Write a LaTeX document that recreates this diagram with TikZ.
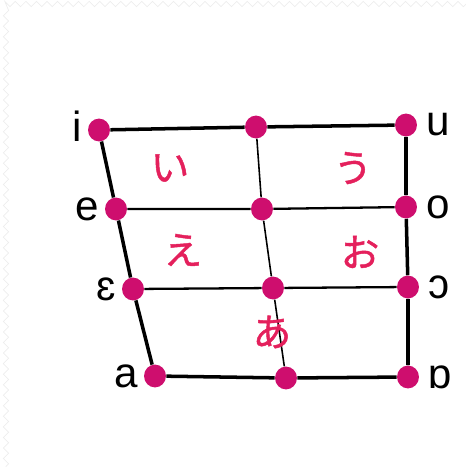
\documentclass[tikz,border=0pt]{standalone}
\usepackage{fontspec}
\setmainfont{Liberation Sans}
\newfontfamily\jpfont[FakeBold=1.2]{Noto Sans CJK JP}
\usetikzlibrary{shapes.geometric,decorations.pathmorphing}
\definecolor{dotred}{RGB}{206,14,110}
\definecolor{kanared}{RGB}{228,32,92}

\begin{document}
\begin{tikzpicture}[x=0.02cm, y=-0.02cm,
	dot/.style={ellipse, fill=dotred, inner sep=0pt, minimum width=12.5pt, minimum height=13pt},
	vowel/.style={font=\fontsize{24}{24}\selectfont, inner sep=0pt, label distance=3pt},
	kana/.style={text=kanared, font=\jpfont\fontsize{22}{22}\selectfont},
	edge/.style={line width=2pt},
	grid/.style={line width=1.3pt}]
	\useasboundingbox (0, 0) rectangle (466, 467);
	% faint paper edge
	\draw [black!7, decorate, decoration={zigzag, segment length=6, amplitude=1.5}]
		(466, 4) -- (6, 4) -- (6, 467);

	% front vowels
	\node [dot, label={[vowel, yshift=2pt]left:i}] (i) at (99, 130) {};
	\node [dot, label={[vowel]left:e}] (e) at (116, 209) {};
	\node [dot, label={[vowel]left:ɛ}] (eps) at (133, 289) {};
	\node [dot, label={[vowel]left:a}] (a) at (155, 376) {};
	% central
	\node [dot] (mi) at (256, 127) {};
	\node [dot] (me) at (262, 209) {};
	\node [dot] (meps) at (273, 288) {};
	\node [dot] (ma) at (286, 378) {};
	% back vowels
	\node [dot, label={[vowel, label distance=5pt]right:u}] (u) at (406, 125) {};
	\node [dot, label={[vowel, label distance=5pt]right:o}] (o) at (406, 207) {};
	\node [dot, label={[vowel, label distance=5pt]right:ɔ}] (oo) at (408, 287) {};
	\node [dot, label={[vowel, label distance=5pt]right:ɒ}] (ao) at (408, 377) {};

	\draw [edge] (i) -- (mi) -- (u);
	\draw [edge] (i) -- (e) -- (eps) -- (a);
	\draw [edge] (u) -- (o) -- (oo) -- (ao);
	\draw [edge] (a) -- (ma) -- (ao);
	\draw [grid] (e) -- (me) -- (o);
	\draw [grid] (eps) -- (meps) -- (oo);
	\draw [line width=0.9pt] (mi) -- (me) -- (meps) -- (ma);

	\node [kana] (ki) at (170, 168) {い};
	\node [kana] (ku) at (353, 168) {う};
	\node [kana] (ke) at (183, 250) {え};
	\node [kana] (ko) at (360, 252) {お};
	\node [kana] (ka) at (272, 332) {あ};
\end{tikzpicture}
\end{document}
